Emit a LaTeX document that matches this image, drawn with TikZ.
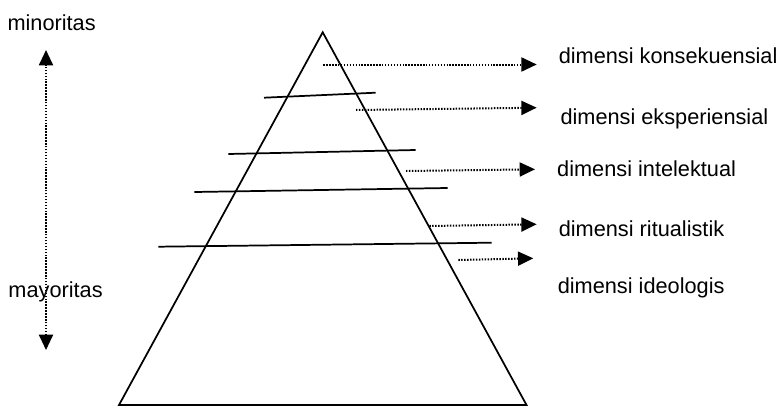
\documentclass[tikz,border=0pt]{standalone}
\usepackage{fontspec}
\setmainfont{Liberation Sans}
\usetikzlibrary{arrows.meta}

\tikzset{every picture/.style={line width=0.75pt}}
\tikzset{
  dimlabel/.style={anchor=base west, inner sep=0pt, font=\fontsize{16.3}{19}\selectfont},
  dottip/.tip={Triangle[length=11.5pt,width=10.5pt]},
  dotarrow/.style={dash pattern={on 1.1pt off 1.1pt}, line width=1.5pt, -dottip},
  layerline/.style={line width=1.3pt},
}

\begin{document}
\begin{tikzpicture}[x=0.75pt,y=0.75pt,yscale=-1,xscale=1]
\useasboundingbox (0,0) rectangle (780,407);

%Triangle
\draw [layerline, line join=miter] (322.7,32.3) -- (526.5,405) -- (119,405) -- cycle;
%Straight Lines
\draw [layerline] (264,97.7) -- (375.7,92.7);
\draw [layerline] (228.3,154) -- (415.7,150);
\draw [layerline] (194.3,192) -- (447.7,188);
\draw [layerline] (158.3,246.7) -- (491.7,242.7);

% Text Node
\node (minoritas) [dimlabel] at (7,30) {minoritas};
\node (mayoritas) [dimlabel] at (8,297.7) {mayoritas};
\node (konsekuensial) [dimlabel] at (558.3,63.3) {dimensi konsekuensial};
\node (eksperiensial) [dimlabel] at (560,124.3) {dimensi eksperiensial};
\node (intelektual) [dimlabel] at (556.7,176.7) {dimensi intelektual};
\node (ritualistik) [dimlabel] at (558.3,236.7) {dimensi ritualistik};
\node (ideologis) [dimlabel] at (557.3,293.7) {dimensi ideologis};

%Arrow ends
\coordinate (konsekuensial0) at (323.3,64.5);
\coordinate (konsekuensial1) at (536.7,64.5);
\coordinate (eksperiensial0) at (356,110);
\coordinate (eksperiensial1) at (536.7,107.7);
\coordinate (intelektual0) at (406,171);
\coordinate (intelektual1) at (535,169.3);
\coordinate (ritualistik0) at (429.3,226);
\coordinate (ritualistik1) at (536.7,224.3);
\coordinate (ideologis0) at (458.3,260);
\coordinate (ideologis1) at (533.3,258.3);
\coordinate (top) at (46,50);
\coordinate (bottom) at (46,350);

%Dotted arrows
\draw [dotarrow] (konsekuensial0) -- (konsekuensial1);
\draw [dotarrow] (eksperiensial0) -- (eksperiensial1);
\draw [dotarrow] (intelektual0) -- (intelektual1);
\draw [dotarrow] (ritualistik0) -- (ritualistik1);
\draw [dotarrow] (ideologis0) -- (ideologis1);
\draw [dotarrow, dottip-dottip] (bottom) -- (top);

\end{tikzpicture}
\end{document}
